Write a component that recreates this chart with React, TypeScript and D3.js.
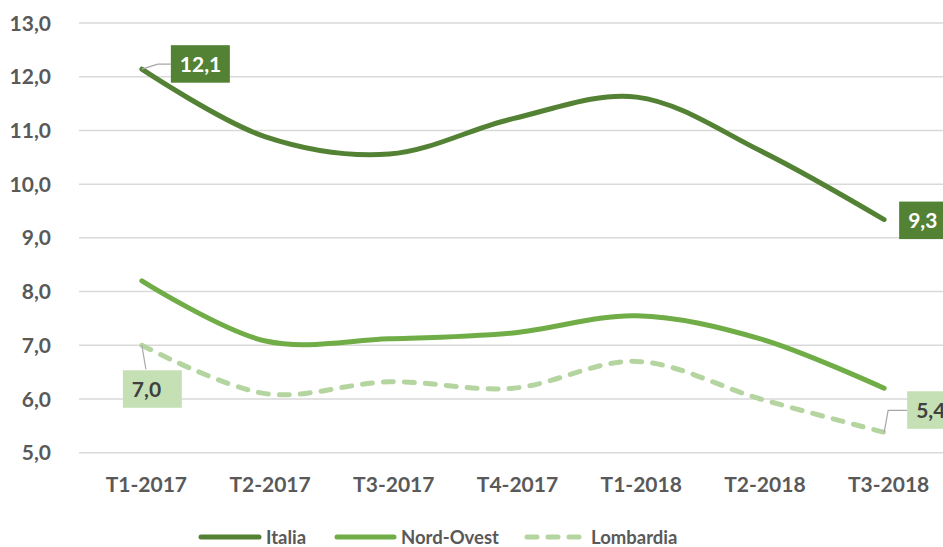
import React from "react";
import * as d3 from "d3";

const categories = ["T1-2017", "T2-2017", "T3-2017", "T4-2017", "T1-2018", "T2-2018", "T3-2018"];
const italia = [12.14, 10.88, 10.56, 11.22, 11.62, 10.62, 9.34];
const nordOvest = [8.2, 7.08, 7.12, 7.23, 7.55, 7.12, 6.2];
const lombardia = [7.0, 6.1, 6.32, 6.2, 6.7, 6.0, 5.38];
const yTicks = [5, 6, 7, 8, 9, 10, 11, 12, 13];
const seriesNames = ["Italia", "Nord-Ovest", "Lombardia"];

const W = 943;
const H = 547;
const FONT = "Lato, 'Open Sans', sans-serif";
const TXT = "#595959";
const colors = ["#548235", "#70AD47", "#B4D5A0"];

export default function App() {
  const x = d3.scaleBand<string>().domain(categories).range([80, 946]).padding(0);
  const cx = (c: string) => (x(c) as number) + x.bandwidth() / 2;
  const y = d3.scaleLinear().domain([5, 13]).range([452.7, 23]);
  const fmt = (v: number) => v.toFixed(1).replace(".", ",");

  const line = d3
    .line<number>()
    .x((_, i) => cx(categories[i]))
    .y((d) => y(d))
    .curve(d3.curveCatmullRom.alpha(0.5));

  const series = [italia, nordOvest, lombardia];
  const last = categories.length - 1;

  return (
    <svg width={W} height={H} style={{ position: "absolute", left: 0, top: 0, background: "#fff" }} fontFamily={FONT}>
      {yTicks.map((t) => (
        <g key={t}>
          <line x1={79} x2={W} y1={y(t)} y2={y(t)} stroke="#D9D9D9" strokeWidth={1.5} />
          <text x={51} y={y(t)} dy="0.36em" textAnchor="end" fontSize={21} fontWeight="bold" fill={TXT}>
            {fmt(t)}
          </text>
        </g>
      ))}
      {categories.map((c) => (
        <text key={c} x={cx(c) + 4.5} y={484} dy="0.36em" textAnchor="middle" fontSize={21} fontWeight="bold" fill={TXT}>
          {c}
        </text>
      ))}
      {series.map((s, i) => (
        <path
          key={seriesNames[i]}
          d={line(s) as string}
          fill="none"
          stroke={colors[i]}
          strokeWidth={5}
          strokeLinecap="round"
          strokeDasharray={i === 2 ? "10 11" : undefined}
        />
      ))}
      {/* leader lines */}
      <polyline
        points={`${cx(categories[0])},${y(italia[0])} ${cx(categories[0]) + 16},${y(italia[0]) - 5} ${cx(categories[0]) + 29},${y(italia[0]) - 5}`}
        fill="none"
        stroke="#A6A6A6"
        strokeWidth={1.2}
      />
      <polyline
        points={`${cx(categories[0])},${y(lombardia[0])} ${cx(categories[0]) + 4},${y(lombardia[0]) + 24}`}
        fill="none"
        stroke="#A6A6A6"
        strokeWidth={1.2}
      />
      <polyline
        points={`${cx(categories[last])},${y(lombardia[last])} ${cx(categories[last]) + 4},${y(lombardia[last]) - 22} ${cx(categories[last]) + 23},${y(lombardia[last]) - 22}`}
        fill="none"
        stroke="#A6A6A6"
        strokeWidth={1.2}
      />
      {/* data labels */}
      {[
        { v: italia[0], x0: cx(categories[0]) + 29, y0: y(italia[0]) - 24, bg: "#548235", fg: "#fff" },
        { v: italia[last], x0: cx(categories[last]) + 15, y0: y(italia[last]) - 18, bg: "#548235", fg: "#fff" },
        { v: lombardia[0], x0: cx(categories[0]) - 19, y0: y(lombardia[0]) + 25, bg: "#C5E0B4", fg: "#404040" },
        { v: lombardia[last], x0: cx(categories[last]) + 23, y0: y(lombardia[last]) - 41, bg: "#C5E0B4", fg: "#404040" },
      ].map((l, i) => (
        <g key={i}>
          <rect x={l.x0} y={l.y0} width={59} height={37.5} fill={l.bg} />
          <text x={l.x0 + 9} y={l.y0 + 18.75} dy="0.36em" fontSize={21} fontWeight="bold" fill={l.fg}>
            {fmt(l.v)}
          </text>
        </g>
      ))}
      {/* legend */}
      {[
        { name: seriesNames[0], x1: 201, x2: 259, tx: 266 },
        { name: seriesNames[1], x1: 337, x2: 394, tx: 401 },
        { name: seriesNames[2], x1: 527, x2: 580, tx: 591 },
      ].map((l, i) => (
        <g key={l.name}>
          <line
            x1={l.x1}
            x2={l.x2}
            y1={537}
            y2={537}
            stroke={colors[i]}
            strokeWidth={5}
            strokeLinecap="round"
            strokeDasharray={i === 2 ? "10 11" : undefined}
          />
          <text x={l.tx} y={537} dy="0.36em" fontSize={18.5} fontWeight="bold" fill={TXT}>
            {l.name}
          </text>
        </g>
      ))}
    </svg>
  );
}
